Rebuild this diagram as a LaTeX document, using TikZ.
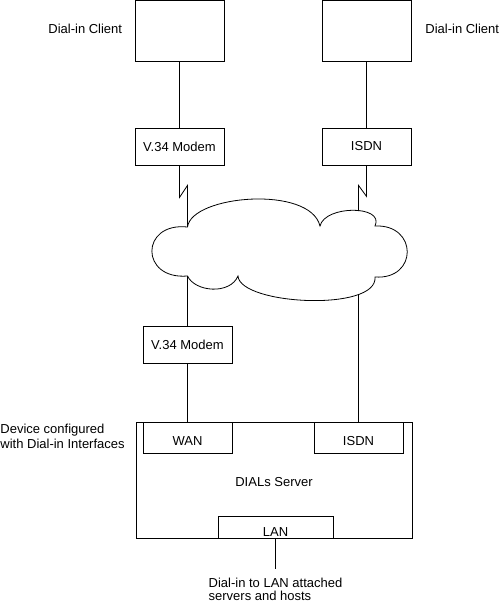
\documentclass[tikz,border=0pt]{standalone}
\usepackage{fontspec}
\setmainfont{Liberation Sans}
\usetikzlibrary{positioning}

\begin{document}
\begin{tikzpicture}[x=1pt,y=-1pt,line width=0.8pt,
    every node/.style={font=\fontsize{13}{15}\selectfont},
    box/.style={draw, inner sep=0pt, minimum width=89pt},
    txt/.style={inner sep=0pt}]
  \useasboundingbox (0,0) rectangle (500,602);

  % Dial-in clients
  \node[box, minimum height=61pt] (clientL) at (179.5,30.5) {};
  \node[box, minimum height=61pt] (clientR) at (366.5,30.5) {};
  \node[txt, anchor=base west] (clientLtxt) at (48,33.5) {Dial-in Client};
  \node[txt, anchor=base west] (clientRtxt) at (425,33.5) {Dial-in Client};

  % Client side modems
  \node[box, minimum height=37pt] (modemL) at (179.5,146.5) {V.34 Modem};
  \node[box, minimum height=37pt] (isdnR) at (366.5,146.5) {ISDN};
  \draw (clientL) -- (modemL);
  \draw (clientR) -- (isdnR);

  % Cloud
  \coordinate (cloudA) at (187.5,227);
  \coordinate (cloudB) at (358.5,211);
  \coordinate (cloudC) at (187.5,276);
  \coordinate (cloudD) at (358.5,295);
  \draw (cloudA) .. controls (191.5,195) and (310,185) .. (320,226)
    .. controls (325,205) and (385,205) .. (375,226)
    .. controls (418,224) and (418,280) .. (375,277)
    .. controls (378,312) and (240,305) .. (238,276)
    .. controls (230,295) and (195,292) .. (cloudC)
    .. controls (140,280) and (140,222) .. (cloudA);

  % Lightning links into the cloud
  \draw (modemL.south) -- ++(0,32) -- ++(8,-12) -- (cloudA);
  \draw (isdnR.south) -- ++(0,31) -- ++(-8,-11) -- (cloudB);

  % Server side
  \node[box, minimum height=37pt] (modemS) at (187.5,344.5) {V.34 Modem};
  \node[box, minimum width=276pt, minimum height=116pt, text height=13pt, text depth=0pt] (server) at (274,480) {DIALs Server};
  \node[box, minimum height=31pt, text height=15pt, text depth=0pt] (wan) at (187.5,437.5) {WAN};
  \node[box, minimum height=31pt, text height=15pt, text depth=0pt] (isdnS) at (358.5,437.5) {ISDN};
  \node[box, minimum width=115pt, minimum height=22pt, text height=18pt, text depth=0pt] (lan) at (275.5,527) {LAN};
  \draw (cloudC) -- (modemS);
  \draw (modemS) -- (wan);
  \draw (cloudD) -- (isdnS);

  % Labels
  \node[txt, anchor=north west, align=left] (devTxt) at (0,424) {Device configured\\with Dial-in Interfaces};
  \draw (lan.south) -- ++(0,31) coordinate (lanEnd);
  \node[txt, below=8pt of lanEnd, align=left, font=\fontsize{13}{13}\selectfont] (lanTxt) {Dial-in to LAN attached\\servers and hosts};
\end{tikzpicture}
\end{document}
